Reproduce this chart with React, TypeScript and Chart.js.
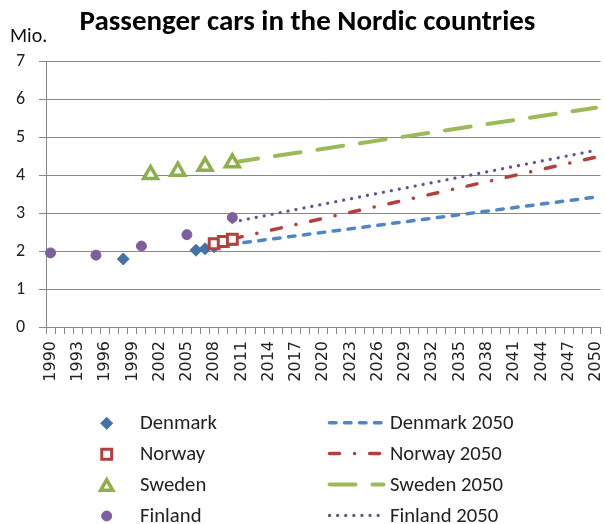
import React, { useEffect, useRef } from 'react';
import { Chart, registerables } from 'chart.js';

Chart.register(...registerables);

const TITLE = 'Passenger cars in the Nordic countries';
const Y_UNIT = 'Mio.';

const YEARS = [
  '1990', '1991', '1992', '1993', '1994', '1995', '1996', '1997', '1998', '1999',
  '2000', '2001', '2002', '2003', '2004', '2005', '2006', '2007', '2008', '2009',
  '2010', '2011', '2012', '2013', '2014', '2015', '2016', '2017', '2018', '2019',
  '2020', '2021', '2022', '2023', '2024', '2025', '2026', '2027', '2028', '2029',
  '2030', '2031', '2032', '2033', '2034', '2035', '2036', '2037', '2038', '2039',
  '2040', '2041', '2042', '2043', '2044', '2045', '2046', '2047', '2048', '2049',
  '2050',
];

const DENMARK_YEARS = ['1998', '2006', '2007', '2008'];
const DENMARK_VALUES = [1.79, 2.02, 2.06, 2.11];

const NORWAY_YEARS = ['2008', '2009', '2010'];
const NORWAY_VALUES = [2.19, 2.25, 2.31];

const SWEDEN_YEARS = ['2001', '2004', '2007', '2010'];
const SWEDEN_VALUES = [4.01, 4.1, 4.23, 4.32];

const FINLAND_YEARS = ['1990', '1995', '2000', '2005', '2010'];
const FINLAND_VALUES = [1.95, 1.89, 2.13, 2.43, 2.88];

const DENMARK_2050_YEARS = ['2008', '2050'];
const DENMARK_2050_VALUES = [2.12, 3.42];

const NORWAY_2050_YEARS = ['2010', '2050'];
const NORWAY_2050_VALUES = [2.32, 4.47];

const SWEDEN_2050_YEARS = ['2010', '2050'];
const SWEDEN_2050_VALUES = [4.33, 5.77];

const FINLAND_2050_YEARS = ['2010', '2050'];
const FINLAND_2050_VALUES = [2.76, 4.65];

const Y_MIN = 0;
const Y_MAX = 7;
const X_LABEL_EVERY = 3;

const FONT = 'Calibri, Carlito, Lato, sans-serif';
const GRID = '#878787';

const pts = (years: string[], values: number[]) => years.map((x, i) => ({ x, y: values[i] }));

function drawMarker(ctx: CanvasRenderingContext2D, ds: any, x: number, y: number) {
  const r = ds.pointRadius;
  ctx.save();
  ctx.beginPath();
  if (ds.pointStyle === 'rectRot') {
    ctx.moveTo(x, y - r);
    ctx.lineTo(x + r, y);
    ctx.lineTo(x, y + r);
    ctx.lineTo(x - r, y);
    ctx.closePath();
  } else if (ds.pointStyle === 'rect') {
    const s = Math.SQRT1_2 * r;
    ctx.rect(x - s, y - s, 2 * s, 2 * s);
  } else if (ds.pointStyle === 'triangle') {
    const cy = y + r / 4;
    for (let k = 0; k < 3; k++) {
      const a = (k * 2 * Math.PI) / 3;
      const px = x + Math.sin(a) * r;
      const py = cy - Math.cos(a) * r;
      if (k === 0) ctx.moveTo(px, py);
      else ctx.lineTo(px, py);
    }
    ctx.closePath();
  } else {
    ctx.arc(x, y, r, 0, Math.PI * 2);
  }
  ctx.fillStyle = ds.pointBackgroundColor;
  ctx.fill();
  ctx.lineWidth = ds.pointBorderWidth;
  ctx.strokeStyle = ds.pointBorderColor;
  ctx.lineJoin = 'miter';
  ctx.stroke();
  ctx.restore();
}

const decorPlugin = {
  id: 'decor',
  afterDraw(chart: any) {
    const ctx: CanvasRenderingContext2D = chart.ctx;
    ctx.save();
    ctx.fillStyle = '#000';
    ctx.font = `bold 29px ${FONT}`;
    ctx.textAlign = 'center';
    ctx.textBaseline = 'alphabetic';
    ctx.fillText(TITLE, 307.5, 30);
    ctx.font = `20px ${FONT}`;
    ctx.textAlign = 'left';
    ctx.fillStyle = '#111';
    ctx.fillText(Y_UNIT, 10, 41.7);

    const ds = chart.data.datasets;
    const markers = ds.filter((d: any) => d.kind === 'marker');
    const lines = ds.filter((d: any) => d.kind === 'line');
    const rowY0 = 423.3;
    const rowStep = 30.9;
    ctx.font = `20.7px ${FONT}`;
    markers.forEach((d: any, i: number) => {
      const y = rowY0 + i * rowStep;
      drawMarker(ctx, { ...d, pointRadius: d.legendRadius }, 106.7, y);
      ctx.fillStyle = '#222';
      ctx.textBaseline = 'alphabetic';
      ctx.fillText(d.label, 140, y + 5.5);
    });
    lines.forEach((d: any, i: number) => {
      const y = rowY0 + i * rowStep - 0.6;
      ctx.save();
      ctx.beginPath();
      ctx.setLineDash(d.borderDash);
      ctx.lineCap = 'round';
      ctx.lineWidth = d.borderWidth;
      ctx.strokeStyle = d.borderColor;
      ctx.moveTo(329.5, y);
      ctx.lineTo(383.5, y);
      ctx.stroke();
      ctx.restore();
      ctx.fillStyle = '#222';
      ctx.fillText(d.label, 390, y + 6.1);
    });
    ctx.restore();
  },
};

export default function App() {
  const ref = useRef<HTMLCanvasElement | null>(null);

  useEffect(() => {
    const canvas = ref.current;
    if (!canvas) return;
    const marker = (label: string, years: string[], values: number[], style: string, fill: string, stroke: string, radius: number, bw: number, legendRadius: number, order: number) => ({
      kind: 'marker', label, data: pts(years, values), showLine: false, pointStyle: style,
      pointRadius: radius, pointHoverRadius: radius, pointBackgroundColor: fill, pointBorderColor: stroke,
      pointBorderWidth: bw, backgroundColor: fill, borderColor: stroke, legendRadius, order,
    });
    const line = (label: string, years: string[], values: number[], color: string, width: number, dash: number[]) => ({
      kind: 'line', label, data: pts(years, values), showLine: true, spanGaps: true, pointRadius: 0,
      pointHoverRadius: 0, borderColor: color, backgroundColor: color, borderWidth: width, borderDash: dash,
      borderCapStyle: 'round', fill: false, tension: 0, order: 10,
    });

    const chart = new Chart(canvas, {
      type: 'line',
      data: {
        labels: YEARS,
        datasets: [
          marker('Denmark', DENMARK_YEARS, DENMARK_VALUES, 'rectRot', '#4472A8', '#4472A8', 6, 1, 6, 4),
          marker('Norway', NORWAY_YEARS, NORWAY_VALUES, 'rect', '#ffffff', '#B3403D', 7, 3, 7, 3),
          marker('Sweden', SWEDEN_YEARS, SWEDEN_VALUES, 'triangle', '#ffffff', '#8DB04C', 8, 3.5, 7, 2),
          marker('Finland', FINLAND_YEARS, FINLAND_VALUES, 'circle', '#7D5F9E', '#7D5F9E', 5, 1, 5, 1),
          line('Denmark 2050', DENMARK_2050_YEARS, DENMARK_2050_VALUES, '#4F86C6', 3.5, [6.5, 8.5]),
          line('Norway 2050', NORWAY_2050_YEARS, NORWAY_2050_VALUES, '#B3403D', 3.5, [10, 15, 0.1, 15]),
          line('Sweden 2050', SWEDEN_2050_YEARS, SWEDEN_2050_VALUES, '#9BBB59', 4, [26, 17]),
          line('Finland 2050', FINLAND_2050_YEARS, FINLAND_2050_VALUES, '#6A4F8E', 3.2, [0.1, 8]),
        ] as any,
      },
      options: {
        animation: false,
        responsive: false,
        events: [],
        layout: { autoPadding: false, padding: { top: 61, left: 0, right: 4.5, bottom: 130 } },
        plugins: { legend: { display: false }, title: { display: false }, tooltip: { enabled: false } },
        scales: {
          x: {
            type: 'category',
            offset: true,
            afterFit: (s: any) => { s.height = 67; s.paddingLeft = 0; s.paddingRight = 0; },
            grid: { offset: true, drawOnChartArea: false, drawTicks: true, tickLength: 7, color: GRID, lineWidth: 1 },
            border: { display: true, color: GRID, width: 1 },
            ticks: {
              autoSkip: false, maxRotation: 90, minRotation: 90, padding: 7, color: '#222',
              font: { family: 'DejaVu Sans', size: 16 },
              callback: (_v: any, i: number) => (i % X_LABEL_EVERY === 0 ? YEARS[i] : ''),
            },
          },
          y: {
            min: Y_MIN,
            max: Y_MAX,
            afterFit: (s: any) => { s.width = 46; s.paddingTop = 0; s.paddingBottom = 0; },
            grid: { color: GRID, lineWidth: 1, drawTicks: true, tickLength: 7 },
            border: { display: true, color: GRID, width: 1 },
            ticks: { stepSize: 1, padding: 14, color: '#222', font: { family: FONT, size: 18 } },
          },
        },
      } as any,
      plugins: [decorPlugin],
    });
    return () => chart.destroy();
  }, []);

  return (
    <div style={{ position: 'absolute', left: 0, top: 0, width: 605, height: 524, background: '#fff' }}>
      <canvas ref={ref} width={605} height={524} style={{ display: 'block', width: 605, height: 524 }} />
    </div>
  );
}
